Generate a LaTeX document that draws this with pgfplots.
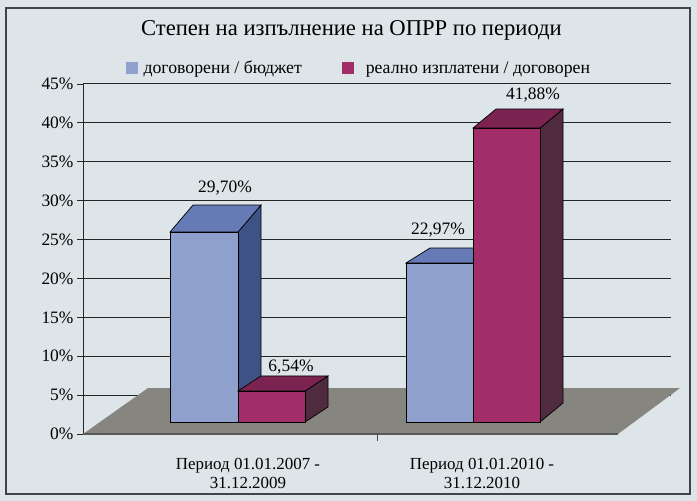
\documentclass[border=0pt]{standalone}
\usepackage{pgfplots}
\pgfplotsset{compat=1.18}
\usepackage{fontspec}
\setmainfont{Liberation Serif}
\definecolor{bg}{HTML}{DDE5E8}
\definecolor{frame}{HTML}{404448}
\definecolor{blueF}{HTML}{8FA0CC}
\definecolor{blueT}{HTML}{667AB6}
\definecolor{blueS}{HTML}{3E5286}
\definecolor{magF}{HTML}{A12E68}
\definecolor{magT}{HTML}{7C2352}
\definecolor{magS}{HTML}{502A3E}
\definecolor{floor}{HTML}{87857F}
\begin{document}
\begin{tikzpicture}[x=1bp,y=1bp]
\fill[bg] (0,0) rectangle (697,501);
\draw[frame, line width=1.5bp] (6,7) rectangle (690,493);
\begin{axis}[
  at={(83bp,67bp)}, anchor=south west,
  scale only axis, width=588bp, height=350bp,
  xmin=83, xmax=671, ymin=0, ymax=45,
  clip=false,
  axis y line*=left, axis x line*=bottom,
  x axis line style={draw=none},
  y axis line style={black!85, line width=1bp},
  tick align=outside, major tick length=6bp,
  ytick={0,5,...,45},
  extra y ticks={5,10,...,45}, extra y tick labels={},
  extra y tick style={grid=major},
  grid style={black!85, line width=1bp},
  ytick style={black!85, line width=0.8bp},
  yticklabel={\pgfmathprintnumber{\tick}\%},
  /pgf/number format/assume math mode=true,
  yticklabel style={font=\fontsize{17.5}{19}\selectfont},
  xtick={248,482},
  xtick style={draw=none},
  xticklabels={{Период 01.01.2007 -\\31.12.2009},{Период 01.01.2010 -\\31.12.2010}},
  xticklabel style={align=center, font=\fontsize{17}{18.5}\selectfont, yshift=-15bp},
  title={Степен на изпълнение на ОПРР по периоди},
  every axis title shift=0pt,
  title style={at={(0.4566,1.152)}, anchor=center, font=\fontsize{22.7}{26}\selectfont},
  legend style={at={(0.469,1.0457)}, anchor=center, draw=none, fill=none,
    legend columns=2, font=\fontsize{17.8}{19}\selectfont,
    /tikz/every even column/.append style={column sep=38bp}},
]
\addlegendimage{legend image code/.code={\fill[blueF, draw=none] (0bp,-6bp) rectangle (12bp,6bp); \path[draw=none, fill=none] (0bp,0bp) rectangle (16bp,0.1bp);}}
\addlegendentry{договорени / бюджет}
\addlegendimage{legend image code/.code={\fill[magF, draw=none] (0bp,-6bp) rectangle (12bp,6bp); \path[draw=none, fill=none] (0bp,0bp) rectangle (22bp,0.1bp);}}
\addlegendentry{реално изплатени / договорен}

% floor
\addplot[fill=floor, draw=none, forget plot] coordinates {(83,0) (618,0) (680,5.91) (148,5.91)} --cycle;
\addplot[draw=black!65, line width=1.5bp, forget plot] coordinates {(83,0) (618,0)};
\addplot[draw=black!70, line width=1bp, forget plot] coordinates {(377,0) (377,-0.9)};

% bar 1 (blue)
\addplot[fill=blueS, draw=black, line width=0.7bp, forget plot] coordinates {(238,1.54) (261,5.01) (261,29.44) (238,25.97)} --cycle;
\addplot[fill=blueT, draw=black, line width=0.7bp, forget plot] coordinates {(170,25.97) (238,25.97) (261,29.44) (193,29.44)} --cycle;
\addplot[fill=blueF, draw=black, line width=0.7bp, forget plot] coordinates {(170,1.54) (238,1.54) (238,25.97) (170,25.97)} --cycle;
% bar 2 (magenta)
\addplot[fill=magS, draw=black, line width=0.7bp, forget plot] coordinates {(305,1.54) (328,3.47) (328,7.46) (305,5.53)} --cycle;
\addplot[fill=magT, draw=black, line width=0.7bp, forget plot] coordinates {(238,5.53) (305,5.53) (328,7.46) (261,7.46)} --cycle;
\addplot[fill=magF, draw=black, line width=0.7bp, forget plot] coordinates {(238,1.54) (305,1.54) (305,5.53) (238,5.53)} --cycle;
% bar 3 (blue)
\addplot[fill=blueS, draw=black, line width=0.7bp, forget plot] coordinates {(473,1.54) (497,3.46) (497,23.91) (473,21.99)} --cycle;
\addplot[fill=blueT, draw=black, line width=0.7bp, forget plot] coordinates {(406,21.99) (473,21.99) (497,23.91) (430,23.91)} --cycle;
\addplot[fill=blueF, draw=black, line width=0.7bp, forget plot] coordinates {(406,1.54) (473,1.54) (473,21.99) (406,21.99)} --cycle;
% bar 4 (magenta)
\addplot[fill=magS, draw=black, line width=0.7bp, forget plot] coordinates {(540,1.54) (563,3.98) (563,41.78) (540,39.34)} --cycle;
\addplot[fill=magT, draw=black, line width=0.7bp, forget plot] coordinates {(473,39.34) (540,39.34) (563,41.78) (496,41.78)} --cycle;
\addplot[fill=magF, draw=black, line width=0.7bp, forget plot] coordinates {(473,1.54) (540,1.54) (540,39.34) (473,39.34)} --cycle;

% value labels
\node[font=\fontsize{17.5}{19}\selectfont] at (axis cs:225,31.63) {29,70\%};
\node[font=\fontsize{17.5}{19}\selectfont] at (axis cs:291,8.61) {6,54\%};
\node[font=\fontsize{17.5}{19}\selectfont] at (axis cs:438,26.23) {22,97\%};
\node[font=\fontsize{17.5}{19}\selectfont] at (axis cs:533,43.59) {41,88\%};
\end{axis}
\end{tikzpicture}
\end{document}
